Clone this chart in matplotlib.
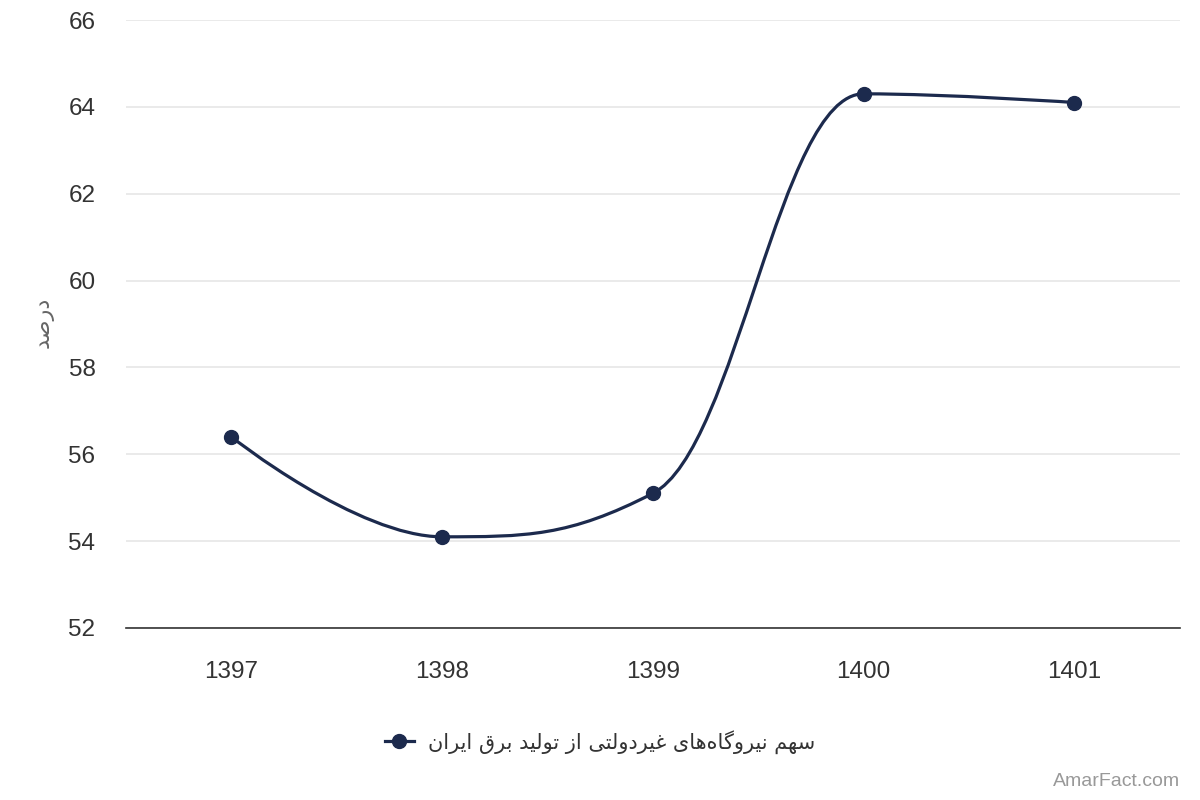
import numpy as np
import matplotlib
matplotlib.use('Agg')
import matplotlib.pyplot as plt
from matplotlib.path import Path
from matplotlib.patches import PathPatch
from matplotlib.lines import Line2D

# داده‌ها
years = ['1397', '1398', '1399', '1400', '1401']
share = [56.4, 54.1, 55.1, 64.3, 64.1]
y_ticks = [52, 54, 56, 58, 60, 62, 64, 66]
series_name = 'سهم نیروگاه‌های غیردولتی از تولید برق ایران'
y_title = 'درصد'
credit = 'AmarFact.com'

navy = '#1c2a4d'

# شکل‌دهی ساده حروف فارسی (matplotlib خودش این کار را نمی‌کند)
FORMS = {
    '\u0627': ('\uFE8D', '\uFE8E', None, None),
    '\u0628': ('\uFE8F', '\uFE90', '\uFE91', '\uFE92'),
    '\u062A': ('\uFE95', '\uFE96', '\uFE97', '\uFE98'),
    '\u062F': ('\uFEA9', '\uFEAA', None, None),
    '\u0631': ('\uFEAD', '\uFEAE', None, None),
    '\u0632': ('\uFEAF', '\uFEB0', None, None),
    '\u0633': ('\uFEB1', '\uFEB2', '\uFEB3', '\uFEB4'),
    '\u0635': ('\uFEB9', '\uFEBA', '\uFEBB', '\uFEBC'),
    '\u063A': ('\uFECD', '\uFECE', '\uFECF', '\uFED0'),
    '\u0642': ('\uFED5', '\uFED6', '\uFED7', '\uFED8'),
    '\u0644': ('\uFEDD', '\uFEDE', '\uFEDF', '\uFEE0'),
    '\u0645': ('\uFEE1', '\uFEE2', '\uFEE3', '\uFEE4'),
    '\u0646': ('\uFEE5', '\uFEE6', '\uFEE7', '\uFEE8'),
    '\u0647': ('\uFEE9', '\uFEEA', '\uFEEB', '\uFEEC'),
    '\u0648': ('\uFEED', '\uFEEE', None, None),
    '\u06CC': ('\uFBFC', '\uFBFD', '\uFBFE', '\uFBFF'),
    '\u06AF': ('\uFB92', '\uFB93', '\uFB94', '\uFB95'),
}

def dual(c):
    return c in FORMS and FORMS[c][2] is not None

def shape(s):
    out = []
    for i, c in enumerate(s):
        if c not in FORMS:
            if c != '\u200c':
                out.append(c)
            continue
        prev = s[i - 1] if i > 0 else ''
        nxt = s[i + 1] if i + 1 < len(s) else ''
        join_prev = dual(prev)
        join_next = dual(c) and nxt in FORMS
        if join_prev and join_next:
            out.append(FORMS[c][3])
        elif join_prev:
            out.append(FORMS[c][1])
        elif join_next:
            out.append(FORMS[c][2])
        else:
            out.append(FORMS[c][0])
    return ''.join(out[::-1])

# منحنی نرم به سبک highcharts
def spline_path(xs, ys, sm=1.5):
    n = len(xs)
    lc = [None] * n
    rc = [None] * n
    for i in range(1, n - 1):
        px, py = xs[i], ys[i]
        lx, ly = xs[i - 1], ys[i - 1]
        nx, ny = xs[i + 1], ys[i + 1]
        d = sm + 1
        lcx = (sm * px + lx) / d
        lcy = (sm * py + ly) / d
        rcx = (sm * px + nx) / d
        rcy = (sm * py + ny) / d
        if rcx != lcx:
            corr = (rcy - lcy) * (rcx - px) / (rcx - lcx) + py - rcy
            lcy += corr
            rcy += corr
        if lcy > ly and lcy > py:
            lcy = max(ly, py)
            rcy = 2 * py - lcy
        elif lcy < ly and lcy < py:
            lcy = min(ly, py)
            rcy = 2 * py - lcy
        if rcy > ny and rcy > py:
            rcy = max(ny, py)
            lcy = 2 * py - rcy
        elif rcy < ny and rcy < py:
            rcy = min(ny, py)
            lcy = 2 * py - rcy
        lc[i] = (lcx, lcy)
        rc[i] = (rcx, rcy)
    verts = [(xs[0], ys[0])]
    codes = [Path.MOVETO]
    for i in range(1, n):
        a = rc[i - 1] or (xs[i - 1], ys[i - 1])
        b = lc[i] or (xs[i], ys[i])
        verts += [a, b, (xs[i], ys[i])]
        codes += [Path.CURVE4] * 3
    return Path(verts, codes)

plt.rcParams['font.family'] = ['Liberation Sans', 'DejaVu Sans']

fig = plt.figure(figsize=(12, 8), dpi=100)
ax = fig.add_axes([0.105, 0.215, 0.878, 0.76])

x = np.arange(len(years))
ax.add_patch(PathPatch(spline_path(list(x), share), fill=False,
                       edgecolor=navy, lw=2.3, zorder=3))
ax.plot(x, share, 'o', color=navy, ms=10, zorder=4)

ax.set_xlim(-0.5, len(years) - 0.5)
ax.set_ylim(52, 66)
ax.set_yticks(y_ticks)
ax.set_xticks(x)
ax.set_xticklabels(years)
ax.grid(axis='y', color='#e6e6e6', lw=1.2)
ax.set_axisbelow(True)
for s in ['top', 'right', 'left']:
    ax.spines[s].set_visible(False)
ax.spines['bottom'].set_color('#333333')
ax.spines['bottom'].set_linewidth(1.2)
ax.tick_params(axis='both', length=0, labelsize=17.5, labelcolor='#333333')
ax.tick_params(axis='y', pad=22)
ax.tick_params(axis='x', pad=24)

fig.text(0.036, 0.597, shape(y_title),
         rotation=90, ha='center', va='center', fontsize=16, color='#666666',
         family=['DejaVu Sans'])

h = Line2D([], [], color=navy, lw=2.3, marker='o', ms=10)
leg = fig.legend([h], [shape(series_name)], loc='center', bbox_to_anchor=(0.5, 0.073),
                 frameon=False, handlelength=1.4, handletextpad=0.7,
                 prop={'family': ['DejaVu Sans'], 'size': 15})
for t in leg.get_texts():
    t.set_color('#333333')

fig.text(0.983, 0.012, credit, ha='right', va='bottom', fontsize=14, color='#999999')

fig.savefig('out.png', dpi=100)
